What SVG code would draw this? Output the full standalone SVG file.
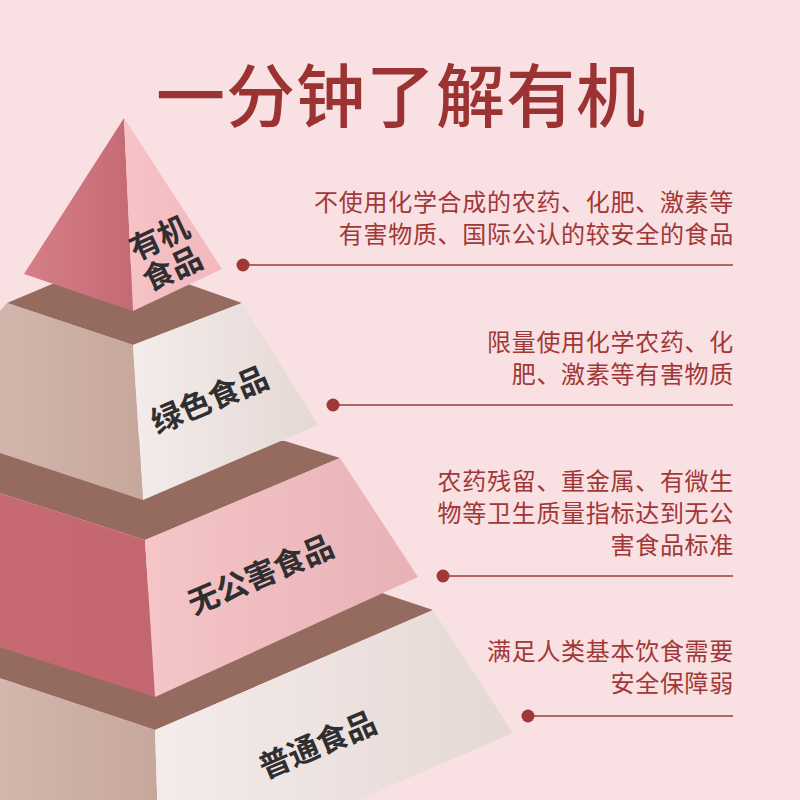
<svg xmlns="http://www.w3.org/2000/svg" width="800" height="800" viewBox="0 0 800 800">
<style>
.brown{fill:#956b60}
.lbl{font-family:"Noto Sans CJK SC","Noto Sans",sans-serif;font-weight:700;fill:#2f2f31;font-size:31px;text-anchor:middle}
.desc{font-family:"Noto Sans CJK SC","Noto Sans",sans-serif;font-weight:400;fill:#a13838;font-size:24px;text-anchor:end;letter-spacing:0.7px}
.lead{stroke:#a13838;stroke-width:1.6;fill:none}
.dot{fill:#a13838}
</style>
<defs>
<linearGradient id="gTopL" x1="0" y1="0" x2="1" y2="0"><stop offset="0" stop-color="#d67f88"/><stop offset="1" stop-color="#c56a74"/></linearGradient>
<linearGradient id="gTopR" x1="0" y1="0" x2="1" y2="0"><stop offset="0" stop-color="#f6c3c7"/><stop offset="1" stop-color="#f2b8bd"/></linearGradient>
<linearGradient id="gBeigeL" x1="0" y1="0" x2="1" y2="0"><stop offset="0" stop-color="#d9c1b7"/><stop offset="1" stop-color="#c7a79c"/></linearGradient>
<linearGradient id="gBeigeR" x1="0" y1="0" x2="1" y2="0"><stop offset="0" stop-color="#f4eceb"/><stop offset="1" stop-color="#e5d8d4"/></linearGradient>
<linearGradient id="gPinkL" x1="0" y1="0" x2="1" y2="0"><stop offset="0" stop-color="#c96c76"/><stop offset="1" stop-color="#c4666f"/></linearGradient>
<linearGradient id="gPinkR" x1="0" y1="0" x2="1" y2="0"><stop offset="0" stop-color="#f5c5c8"/><stop offset="1" stop-color="#e8b2b5"/></linearGradient>
</defs>
<rect width="800" height="800" fill="#f9e0e2"/>

<text x="401" y="122" font-family="'Noto Sans CJK SC','Noto Sans',sans-serif" font-weight="500" font-size="69" letter-spacing="1" fill="#9b3332" text-anchor="middle">一分钟了解有机</text>

<g id="tier4">
<polygon class="brown" points="-100,590 382,593 433,610 155,730 -100,645"/>
<polygon fill="url(#gBeigeL)" points="-100,645 155,730 160,885 -100,885"/>
<polygon fill="url(#gBeigeR)" points="155,730 433,610 513,733 160,885"/>
<text class="lbl" transform="translate(322,755) rotate(-23)">普通食品</text>
</g>

<g id="tier3">
<polygon class="brown" points="-100,430 285,441 340,458 145,540 -100,461"/>
<polygon fill="url(#gPinkL)" points="-100,461 145,540 155,697 -100,615"/>
<polygon fill="url(#gPinkR)" points="145,540 340,458 418,577 155,697"/>
<text class="lbl" transform="translate(265,585) rotate(-23)">无公害食品</text>
</g>

<g id="tier2">
<polygon class="brown" points="7,303 114,258 242,303 133,345"/>
<polygon fill="url(#gBeigeL)" points="7,303 133,345 143,500 -100,420"/>
<polygon fill="url(#gBeigeR)" points="133,345 242,303 318,425 143,500"/>
<text class="lbl" transform="translate(214,410) rotate(-23)">绿色食品</text>
</g>

<g id="tier1">
<polygon fill="url(#gTopL)" points="124,118 24,274 133,311"/>
<polygon fill="url(#gTopR)" points="124,118 133,311 222,269"/>
<text class="lbl" font-size="30" transform="translate(164,248) rotate(-25)">有机</text>
<text class="lbl" font-size="30" transform="translate(177,279) rotate(-25)">食品</text>
</g>

<g id="connectors">
<line class="lead" x1="243" y1="265" x2="733" y2="265"/>
<circle class="dot" cx="243" cy="265" r="6.5"/>
<line class="lead" x1="333" y1="405" x2="733" y2="405"/>
<circle class="dot" cx="333" cy="405" r="6.5"/>
<line class="lead" x1="443" y1="576" x2="733" y2="576"/>
<circle class="dot" cx="443" cy="576" r="6.5"/>
<line class="lead" x1="528" y1="716" x2="733" y2="716"/>
<circle class="dot" cx="528" cy="716" r="6.5"/>
</g>

<g id="desc1">
<text class="desc" x="734" y="211">不使用化学合成的农药、化肥、激素等</text>
<text class="desc" x="734" y="243">有害物质、国际公认的较安全的食品</text>
</g>
<g id="desc2">
<text class="desc" x="734" y="351">限量使用化学农药、化</text>
<text class="desc" x="734" y="383">肥、激素等有害物质</text>
</g>
<g id="desc3">
<text class="desc" x="734" y="490">农药残留、重金属、有微生</text>
<text class="desc" x="734" y="522">物等卫生质量指标达到无公</text>
<text class="desc" x="734" y="554">害食品标准</text>
</g>
<g id="desc4">
<text class="desc" x="734" y="660">满足人类基本饮食需要</text>
<text class="desc" x="734" y="692">安全保障弱</text>
</g>
</svg>
